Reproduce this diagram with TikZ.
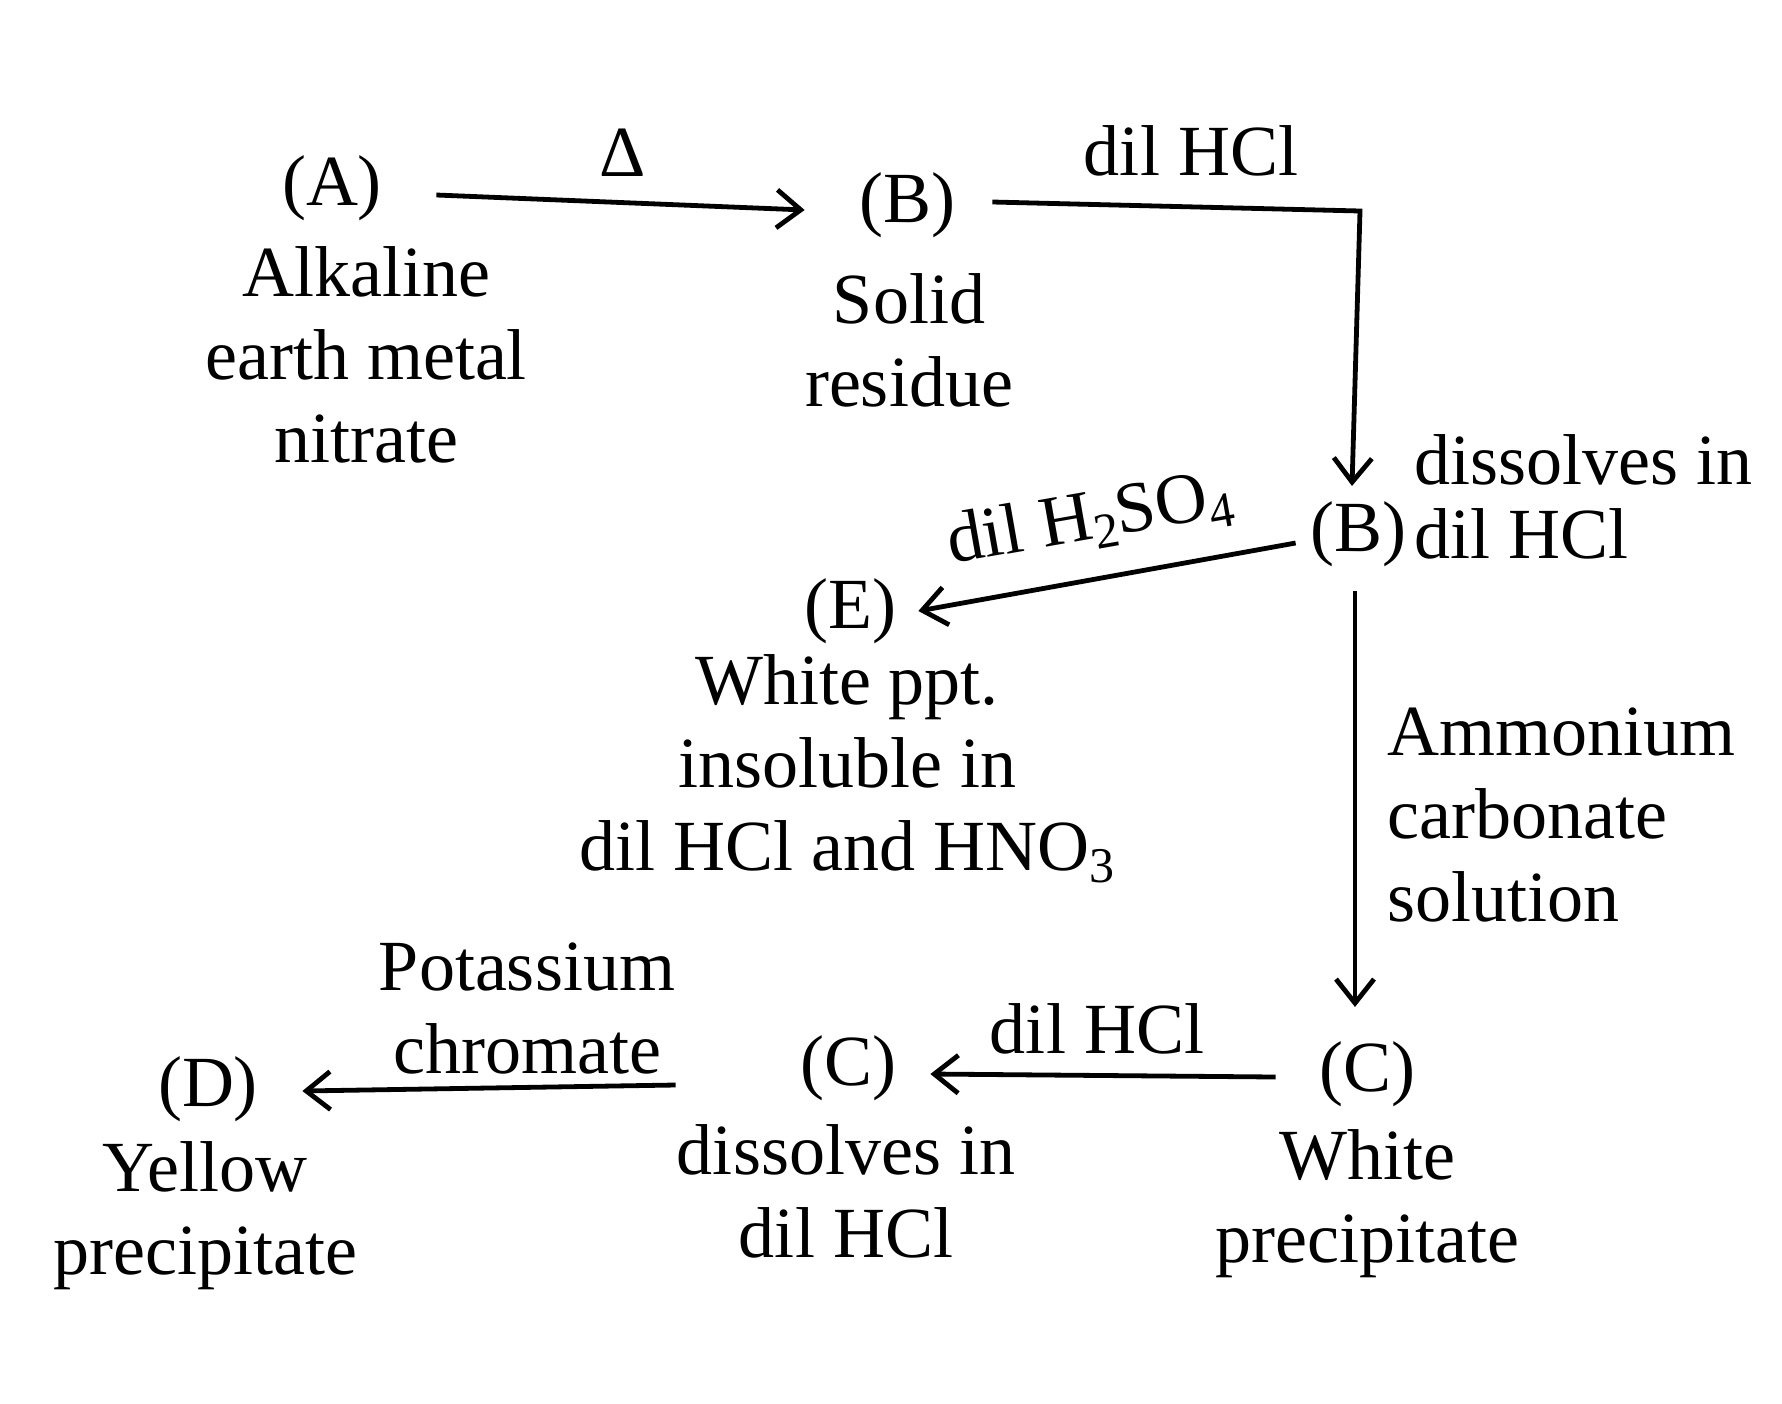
\documentclass[tikz,border=0pt]{standalone}
\usepackage{fontspec}
\setmainfont{Liberation Serif}
\usetikzlibrary{arrows.meta}
\newcommand{\chemsub}[1]{\raisebox{-0.35ex}{\fontsize{25}{25}\selectfont #1}}
\begin{document}
\begin{tikzpicture}[x=0.5pt,y=-0.5pt,
  txt/.style={inner sep=0pt,font=\fontsize{36}{41.5}\selectfont},
  blk/.style={txt,align=center},
  lblk/.style={txt,align=left},
  arr/.style={line width=2.4pt,-{Straight Barb[length=12pt,width=19pt,line width=2.4pt]}},
  ln/.style={line width=2.4pt}]
\useasboundingbox (0,0) rectangle (1782,1403);
% Nodes
\node[txt] (A) at (332,188) {(A)};
\node[blk] (Ad) at (366,355) {Alkaline\\earth metal\\nitrate};
\node[txt] (delta) at (623,153) {Δ};
\node[txt] (B) at (907,205) {(B)};
\node[blk] (Bd) at (909,340) {Solid\\residue};
\node[txt] (hcl1) at (1191,151) {dil HCl};
\node[txt] (B2) at (1358,534) {(B)};
\node[txt,anchor=west] (diss1) at (1414,460) {dissolves in};
\node[txt,anchor=west] (hcl2) at (1414,534) {dil HCl};
\node[txt] (E) at (850,611) {(E)};
\node[blk] (Ed) at (847,769) {White ppt.\\insoluble in\\dil HCl and HNO\chemsub{3}};
\node[txt,rotate=10] (h2so4) at (1090,520) {dil H\chemsub{2}SO\chemsub{4}};
\node[lblk,anchor=west] (amm) at (1387,815) {Ammonium\\carbonate\\solution};
\node[txt] (C) at (1367,1074) {(C)};
\node[blk] (Cd) at (1367,1204) {White\\precipitate};
\node[txt] (hcl3) at (1097,1029) {dil HCl};
\node[txt] (C2) at (848,1068) {(C)};
\node[blk] (C2d) at (846,1191) {dissolves in\\dil HCl};
\node[blk] (kcr) at (527,1008) {Potassium\\chromate};
\node[txt] (D) at (208,1089) {(D)};
\node[blk] (Dd) at (205,1216) {Yellow\\precipitate};
% connectors
\coordinate (corner) at (1360,211);
\draw[arr] ([xshift=27pt,yshift=-3.5pt]A.east) -- ([xshift=-27pt,yshift=-2.5pt]B.west);
\draw[arr] ([xshift=18.5pt,yshift=1.5pt]B.east) -- (corner) -- ([xshift=-3pt,yshift=7.5pt]B2.north);
\draw[arr] ([xshift=-7pt,yshift=-4.5pt]B2.west) -- ([xshift=11pt,yshift=0pt]E.east);
\draw[arr] ([xshift=-1.5pt,yshift=-12pt]B2.south) -- ([xshift=-6pt,yshift=17pt]C.north);
\draw[arr] ([xshift=-21.5pt,yshift=-1.5pt]C.west) -- ([xshift=17pt,yshift=-3pt]C2.east);
\draw[arr] ([xshift=-62pt,yshift=-8.5pt]C2.west) -- ([xshift=22pt,yshift=-1pt]D.east);
\end{tikzpicture}
\end{document}
